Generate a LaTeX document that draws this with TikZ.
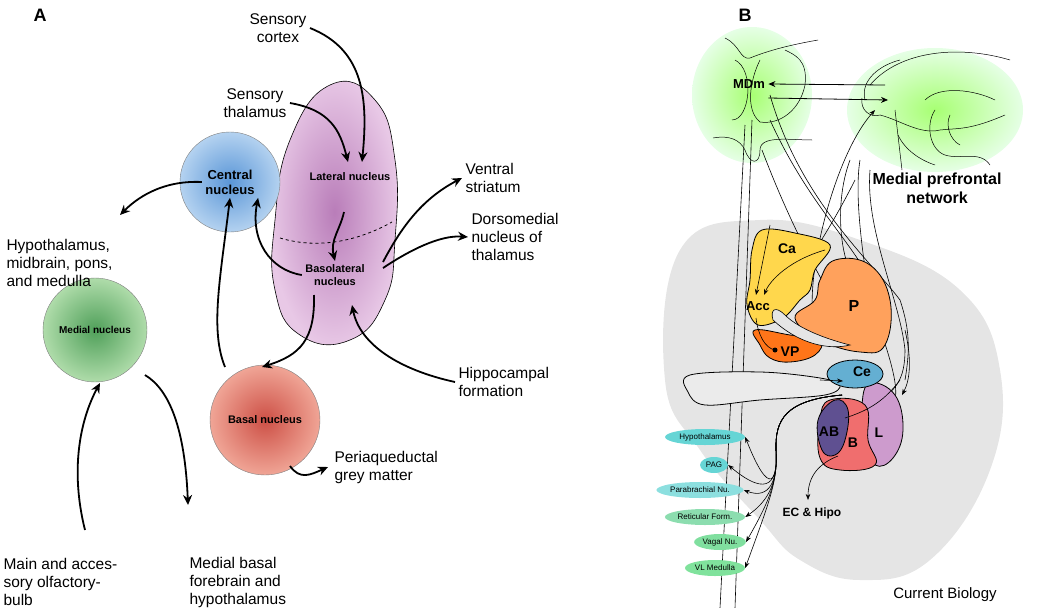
\documentclass[tikz,border=0pt]{standalone}
\usepackage{fontspec}
\setmainfont{Liberation Sans}
\usetikzlibrary{arrows.meta,shapes.geometric}
\definecolor{purin}{RGB}{185,125,185}
\definecolor{purout}{RGB}{232,200,230}
\definecolor{bluein}{RGB}{90,150,215}
\definecolor{blueout}{RGB}{180,210,240}
\definecolor{grin}{RGB}{80,160,90}
\definecolor{grout}{RGB}{175,220,170}
\definecolor{rdin}{RGB}{205,80,70}
\definecolor{rdout}{RGB}{240,165,150}
\begin{document}
\begin{tikzpicture}[x=1pt,y=-1pt,
 lab/.style={font=\fontsize{15.5}{18}\selectfont,align=left},
 nl/.style={font=\bfseries\fontsize{11}{13}\selectfont,align=center},
 arr/.style={line width=1.8pt,-{Stealth[length=10pt,width=9pt]}},
 thin/.style={line width=0.8pt,-{Stealth[length=7pt,width=6pt]}},
 cell/.style={ellipse,fill=teal!55!cyan!60,inner sep=1pt,minimum height=16pt,font=\fontsize{8}{9}\selectfont}]
\useasboundingbox (0,0) rectangle (1050,608);
% ---------- Panel A ----------
\node[font=\bfseries\fontsize{18}{20}\selectfont] (A) at (40,15) {A};
\shade[inner color=purin, outer color=purout, draw=black, line width=0.6pt]
 plot[smooth cycle,tension=0.8] coordinates {(330,85) (375,100) (395,160) (395,240) (385,300) (350,340) (300,335) (275,290) (275,220) (290,140)};
\draw[dashed,line width=0.8pt] (280,238) .. controls (320,250) and (360,240) .. (392,222);
\shade[inner color=bluein, outer color=blueout, draw=black!50] (230,182) circle (50);
\shade[inner color=grin, outer color=grout, draw=black!50] (95,330) circle (52);
\shade[inner color=rdin, outer color=rdout, draw=black!50] (265,420) circle (55);
\node[nl,font=\bfseries\fontsize{13}{15}\selectfont] (cen) at (230,182) {Central\\nucleus};
\node[nl,font=\bfseries\fontsize{10}{12}\selectfont] (med) at (95,330) {Medial nucleus};
\node[nl] (bas) at (265,420) {Basal nucleus};
\node[nl] (lat) at (350,177) {Lateral nucleus};
\node[nl] (bl) at (335,275) {Basolateral\\nucleus};
\node[lab,align=center] (sc) at (278,28) {Sensory\\cortex};
\node[lab,align=center] (st) at (255,103) {Sensory\\thalamus};
\node[lab,anchor=west] (vs) at (462,178) {Ventral\\striatum};
\node[lab,anchor=west] (dm) at (468,237) {Dorsomedial\\nucleus of\\thalamus};
\node[lab,anchor=west] (hy) at (3,263) {Hypothalamus,\\midbrain, pons,\\and medulla};
\node[lab,anchor=west] (hf) at (455,382) {Hippocampal\\formation};
\node[lab,anchor=west] (pag) at (331,467) {Periaqueductal\\grey matter};
\node[lab,anchor=west] (ol) at (0,582) {Main and acces-\\sory olfactory-\\bulb};
\node[lab,anchor=west] (mb) at (186,582) {Medial basal\\forebrain and\\hypothalamus};
\coordinate (latT) at (362,162); \coordinate (latT2) at (348,162);
\draw[arr] (sc.east) .. controls (365,50) and (368,100) .. (latT);
\draw[arr] (st.east) .. controls (330,110) and (340,130) .. (latT2);
\draw[arr] (344,212) .. controls (340,230) and (330,240) .. (bl.north);
\draw[arr] (383,262) .. controls (400,230) and (420,200) .. (vs.west);
\draw[arr] (383,268) .. controls (410,250) and (440,235) .. (dm.west);
\draw[arr] (bl.west) .. controls (270,270) and (250,240) .. (cen.south east);
\draw[arr] (cen.west) .. controls (160,180) and (135,200) .. (120,215);
\draw[arr] (314,295) .. controls (315,340) and (300,355) .. (262,367);
\draw[arr] (225,367) .. controls (210,330) and (220,280) .. (cen.south);
\draw[arr] (hf.west) .. controls (400,370) and (360,345) .. (352,305);
\draw[arr] (290,466) .. controls (300,480) and (310,475) .. (328,467);
\draw[arr] (145,375) .. controls (170,390) and (185,430) .. (188,505);
\draw[arr] (85,530) .. controls (70,470) and (80,420) .. (100,383);
% ---------- Panel B ----------
\node[font=\bfseries\fontsize{18}{20}\selectfont] (B) at (745,15) {B};
\fill[black!10] plot[smooth cycle,tension=0.7] coordinates {(680,250) (760,220) (860,240) (960,290) (1000,370) (990,470) (930,560) (860,580) (800,560) (760,520) (700,450) (665,380)};
\shade[inner color=green!50!lime!55, outer color=green!10!white] (752,95) ellipse (60 and 68);
\shade[inner color=green!50!lime!55, outer color=green!10!white] (935,110) ellipse (88 and 62);
\draw[line width=0.5pt] (725,38) .. controls (740,45) and (740,60) .. (750,58) .. controls (770,50) and (790,45) .. (818,40);
\draw[line width=0.5pt] (735,60) .. controls (755,70) and (750,120) .. (732,120);
\draw[line width=0.5pt] (760,60) .. controls (750,80) and (745,110) .. (760,122) .. controls (780,125) and (800,110) .. (805,85) .. controls (808,60) and (795,55) .. (785,50);
\draw[line width=0.5pt] (713,138) .. controls (730,135) and (740,140) .. (745,150) .. controls (750,165) and (760,165) .. (760,150) .. controls (760,135) and (790,140) .. (812,140);
\draw[line width=0.5pt] (870,85) .. controls (900,50) and (960,45) .. (1010,60);
\draw[line width=0.5pt] (865,100) .. controls (860,80) and (880,65) .. (900,60);
\draw[line width=0.5pt] (862,98) .. controls (860,110) and (870,118) .. (880,115) .. controls (900,120) and (920,135) .. (940,130) .. controls (960,128) and (970,130) .. (1005,115);
\draw[line width=0.5pt] (925,100) .. controls (940,85) and (975,90) .. (995,100);
\draw[line width=0.5pt] (935,110) .. controls (925,125) and (930,150) .. (945,155) .. controls (960,160) and (980,150) .. (990,165);
\draw[line width=0.5pt] (950,115) .. controls (945,125) and (950,140) .. (960,145);
\draw[line width=0.5pt] (898,135) .. controls (905,150) and (920,160) .. (935,165);
\draw[line width=0.5pt] (895,110) -- (902,170);
\node[font=\bfseries\fontsize{13}{15}\selectfont] (mdm) at (749,84) {MDm};
\node[font=\bfseries\fontsize{16}{19}\selectfont,align=center] (mpn) at (937,188) {Medial prefrontal\\network};
\coordinate (pfc1) at (885,85); \coordinate (pfc2) at (888,100);
\draw[thin] (pfc1) -- (mdm.east);
\draw[thin] ([yshift=-6pt]mdm.south east) -- (pfc2);
\draw[line width=0.6pt] (745,125) -- (720,608);
\draw[line width=0.6pt] (752,120) -- (735,608);
\draw[line width=0.6pt] (770,95) .. controls (800,200) and (870,260) .. (900,300) .. controls (910,330) and (910,350) .. (905,380);
\draw[line width=0.6pt] (770,120) .. controls (820,230) and (880,260) .. (885,330);
\draw[line width=0.6pt,-{Stealth[length=6pt]}] (855,180) .. controls (820,250) and (780,300) .. (770,320);
\draw[line width=0.6pt] (762,150) .. controls (800,250) and (835,300) .. (840,315);
\draw[line width=0.6pt,-{Stealth[length=6pt]}] (817,330) .. controls (800,300) and (830,160) .. (875,110);
\draw[line width=0.6pt] (850,160) .. controls (835,200) and (840,250) .. (850,270);
\draw[line width=0.6pt] (860,160) .. controls (855,190) and (860,240) .. (870,300) .. controls (880,330) and (900,380) .. (895,400);
\draw[line width=0.6pt] (870,170) .. controls (865,230) and (900,300) .. (905,350) .. controls (905,380) and (895,390) .. (880,400);
\filldraw[fill=orange!45!yellow!70!white,draw=black,line width=0.8pt] plot[smooth cycle,tension=0.6] coordinates {(762,230) (795,233) (830,245) (815,270) (810,290) (800,300) (783,318) (758,325) (747,305) (750,280) (752,250)};
\filldraw[fill=orange!60!white!90!red,draw=black,line width=0.8pt] plot[smooth cycle,tension=0.7] coordinates {(835,260) (870,265) (890,300) (885,345) (860,352) (820,340) (795,318) (815,300) (820,280)};
\filldraw[fill=orange!80!red!90,draw=black,line width=0.8pt] plot[smooth cycle,tension=0.7] coordinates {(755,330) (790,335) (820,340) (815,355) (790,362) (770,358) (760,345)};
\fill[black!10,draw=black,line width=0.6pt] (773,320) .. controls (770,310) and (775,305) .. (785,315) .. controls (800,330) and (830,340) .. (850,345) .. controls (830,350) and (800,345) .. (773,320);
\node[font=\bfseries\fontsize{14}{16}\selectfont] (ca) at (787,249) {Ca};
\node[font=\bfseries\fontsize{13}{15}\selectfont] (acc) at (758,306) {Acc};
\node[font=\bfseries\fontsize{16}{18}\selectfont] (p) at (854,306) {P};
\node[font=\bfseries\fontsize{14}{16}\selectfont] (vp) at (790,352) {VP};
\fill (775,350) circle (2.5);
\draw[line width=0.6pt,-{Stealth[length=6pt]}] (770,225) -- (756,295);
\draw[line width=0.6pt,-{Stealth[length=6pt]}] (825,250) .. controls (790,260) and (770,280) .. (764,295);
\draw[line width=0.6pt] (756,318) .. controls (758,335) and (765,348) .. (775,350);
\draw[line width=0.8pt,fill=black!8] plot[smooth cycle,tension=0.6] coordinates {(690,375) (760,372) (820,378) (840,385) (825,395) (760,400) (705,405) (688,392)};
\filldraw[fill={rgb,255:red,205;green,155;blue,205},draw=black,line width=0.8pt] plot[smooth cycle,tension=0.7] coordinates {(870,383) (895,395) (903,430) (893,458) (875,465) (865,440) (862,405)};
\filldraw[fill={rgb,255:red,240;green,110;blue,110},draw=black,line width=0.8pt] plot[smooth cycle,tension=0.7] coordinates {(830,400) (865,405) (868,440) (875,465) (840,470) (820,458) (820,420)};
\filldraw[fill={rgb,255:red,95;green,80;blue,145},draw=black,line width=0.8pt] plot[smooth cycle,tension=0.7] coordinates {(835,400) (848,410) (845,440) (835,455) (822,450) (818,420)};
\filldraw[fill={rgb,255:red,100;green,175;blue,210},draw=black,line width=0.8pt] (855,374) ellipse (28 and 14);
\node[font=\bfseries\fontsize{14}{16}\selectfont] (ce) at (862,372) {Ce};
\node[font=\bfseries\fontsize{14}{16}\selectfont] (ab) at (829,432) {AB};
\node[font=\bfseries\fontsize{14}{16}\selectfont] (b) at (853,443) {B};
\node[font=\bfseries\fontsize{14}{16}\selectfont] (l) at (879,433) {L};
\draw[line width=0.6pt,-{Stealth[length=6pt]}] (820,380) -- (843,381);
\draw[line width=0.6pt] (845,418) .. controls (870,410) and (885,400) .. (900,380);
\draw[line width=0.6pt,-{Stealth[length=6pt]}] (905,330) .. controls (912,360) and (910,380) .. (902,395);
\node[cell,minimum width=80pt] (c1) at (705,437) {Hypothalamus};
\node[cell,minimum width=28pt] (c2) at (714,465) {PAG};
\node[cell,minimum width=80pt,fill=teal!55!cyan!45] (c3) at (700,490) {Parabrachial Nu.};
\node[cell,minimum width=80pt,fill=teal!60!green!45] (c4) at (705,517) {Reticular Form.};
\node[cell,minimum width=50pt,fill=teal!50!green!50] (c5) at (720,542) {Vagal Nu.};
\node[cell,minimum width=60pt,fill=green!55!teal!50] (c6) at (715,568) {VL Medulla};
\coordinate (src) at (842,395);
\foreach \c in {c1,c2,c3,c4,c5,c6}{
 \draw[line width=0.6pt,-{Stealth[length=6pt]}] (src) .. controls (785,400) and (775,420) .. (776,450) .. controls (778,480) and (770,500) .. (\c.east);
}
\node[font=\bfseries\fontsize{12}{14}\selectfont] (ec) at (812,513) {EC \& Hipo};
\draw[line width=0.6pt,-{Stealth[length=6pt]}] (838,456) .. controls (815,465) and (808,480) .. (808,500);
\node[font=\fontsize{15}{17}\selectfont] (cb) at (945,595) {Current Biology};
\end{tikzpicture}
\end{document}
